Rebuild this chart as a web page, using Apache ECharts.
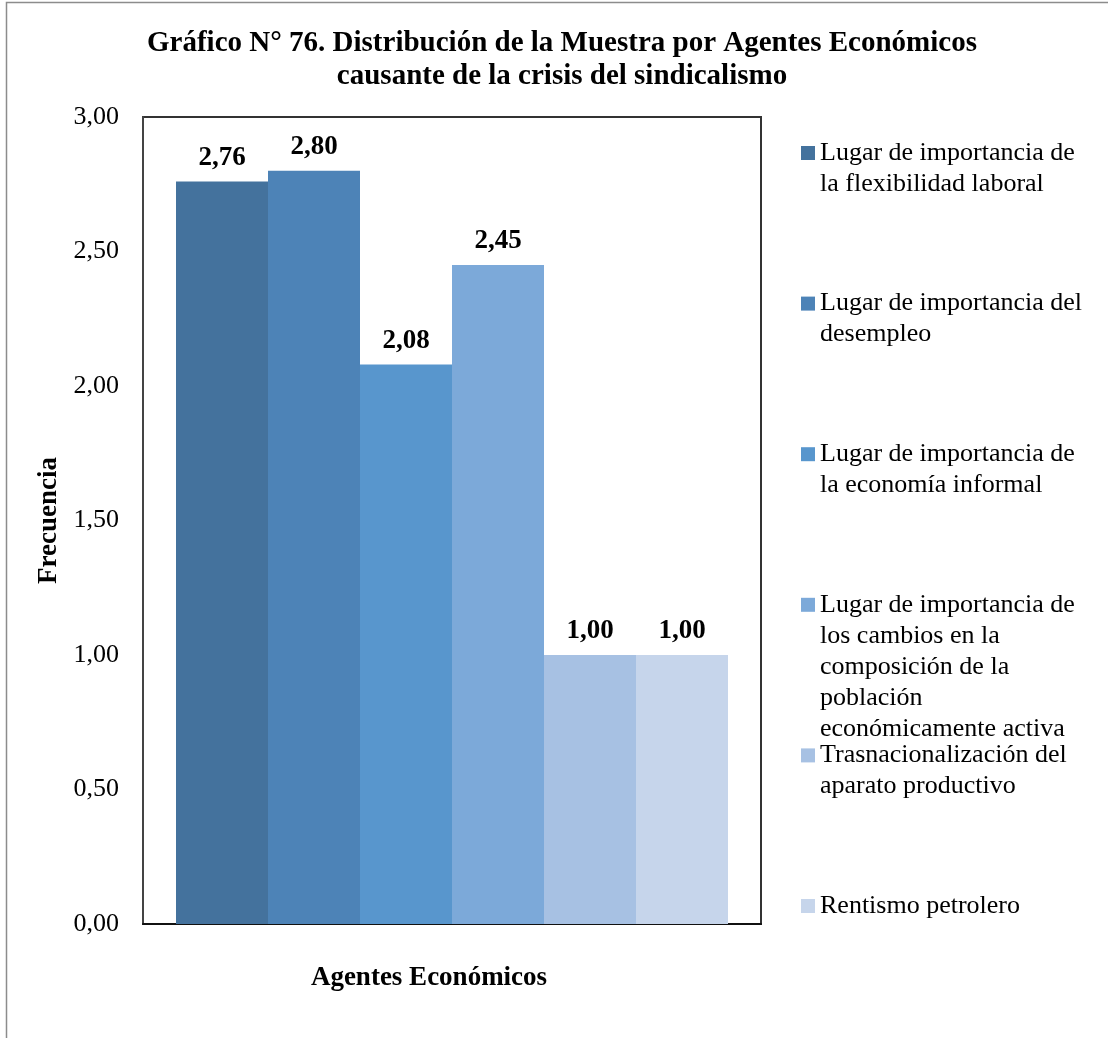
<!DOCTYPE html>
<html>
<head>
<meta charset="utf-8">
<script src="https://cdn.jsdelivr.net/npm/echarts@6/dist/echarts.min.js"></script>
<style>
html,body{margin:0;padding:0;background:#fff;}
#chart{width:1108px;height:1038px;}
</style>
</head>
<body>
<div id="chart"></div>
<script>
const categories = [''];
const seriesNames = [
  'Lugar de importancia de\nla flexibilidad laboral',
  'Lugar de importancia del\ndesempleo',
  'Lugar de importancia de\nla economía informal',
  'Lugar de importancia de\nlos cambios en la\ncomposición de la\npoblación\neconómicamente activa',
  'Trasnacionalización del\naparato productivo',
  'Rentismo petrolero'
];
const seriesValues = [2.76, 2.80, 2.08, 2.45, 1.00, 1.00];
const seriesColors = ['#44729d', '#4d83b7', '#5896cd', '#7ca9d9', '#a7c1e3', '#c6d5eb'];
const yTicks = [0, 0.5, 1, 1.5, 2, 2.5, 3];
const legendIconCenters = [153, 303.6, 454.2, 604.8, 755.4, 906];

const FONT = "'Liberation Serif', 'Times New Roman', serif";
const LH = 31;
const fmt = v => Number(v).toFixed(2).replace('.', ',');

const chart = echarts.init(document.getElementById('chart'), null, {renderer: 'canvas'});

const legends = seriesNames.map((name, i) => {
  const n = name.split('\n').length;
  const H = (2 * n - 1) * LH;
  return {
    data: [name],
    left: 801,
    top: legendIconCenters[i] - H / 2,
    orient: 'vertical',
    padding: 0,
    icon: 'rect',
    itemWidth: 14,
    itemHeight: 14,
    selectedMode: false,
    formatter: nm => '\n'.repeat(n - 1) + nm,
    textStyle: {
      fontFamily: FONT,
      fontSize: 26,
      color: '#000',
      lineHeight: LH
    }
  };
});

const option = {
  animation: false,
  backgroundColor: '#fff',
  title: {
    text: 'Gráfico N° 76. Distribución de la Muestra por Agentes Económicos\ncausante de la crisis del sindicalismo',
    left: 557,
    top: 22,
    textAlign: 'center',
    textStyle: {
      fontFamily: FONT,
      fontSize: 29,
      fontWeight: 'bold',
      color: '#000',
      lineHeight: 33
    }
  },
  legend: legends,
  grid: {
    left: 143,
    right: 347,
    top: 117,
    bottom: 114,
    show: true,
    borderColor: '#333',
    borderWidth: 2,
    backgroundColor: 'transparent'
  },
  xAxis: {
    type: 'category',
    data: categories,
    name: 'Agentes Económicos',
    nameLocation: 'middle',
    nameGap: 41,
    nameTextStyle: {
      fontFamily: FONT,
      fontSize: 27,
      fontWeight: 'bold',
      color: '#000',
      padding: [0, 46, 0, 0]
    },
    axisLine: {show: true, lineStyle: {color: '#111', width: 2}},
    axisTick: {show: false},
    axisLabel: {show: false}
  },
  yAxis: {
    type: 'value',
    min: yTicks[0],
    max: yTicks[yTicks.length - 1],
    interval: yTicks[1] - yTicks[0],
    name: 'Frecuencia',
    nameLocation: 'middle',
    nameRotate: 90,
    nameGap: 76,
    nameTextStyle: {
      fontFamily: FONT,
      fontSize: 27,
      fontWeight: 'bold',
      color: '#000'
    },
    axisLine: {show: true, lineStyle: {color: '#444', width: 2}},
    axisTick: {show: false},
    splitLine: {show: false},
    axisLabel: {
      fontFamily: FONT,
      fontSize: 26,
      color: '#000',
      margin: 24,
      padding: [5, 0, 0, 0],
      formatter: v => fmt(v)
    }
  },
  series: seriesNames.map((name, i) => ({
    type: 'bar',
    name: name,
    data: [seriesValues[i]],
    barWidth: 92,
    barGap: '0%',
    itemStyle: {color: seriesColors[i]},
    label: {
      show: true,
      position: 'top',
      distance: 10,
      fontFamily: FONT,
      fontSize: 27,
      fontWeight: 'bold',
      color: '#000',
      formatter: p => fmt(p.value)
    }
  })),
  graphic: [{
    type: 'rect',
    shape: {x: 6.5, y: 2.5, width: 1300, height: 1300},
    style: {fill: 'none', stroke: '#8c8c8c', lineWidth: 1.5},
    silent: true,
    z: -10
  }]
};

chart.setOption(option);
</script>
</body>
</html>
